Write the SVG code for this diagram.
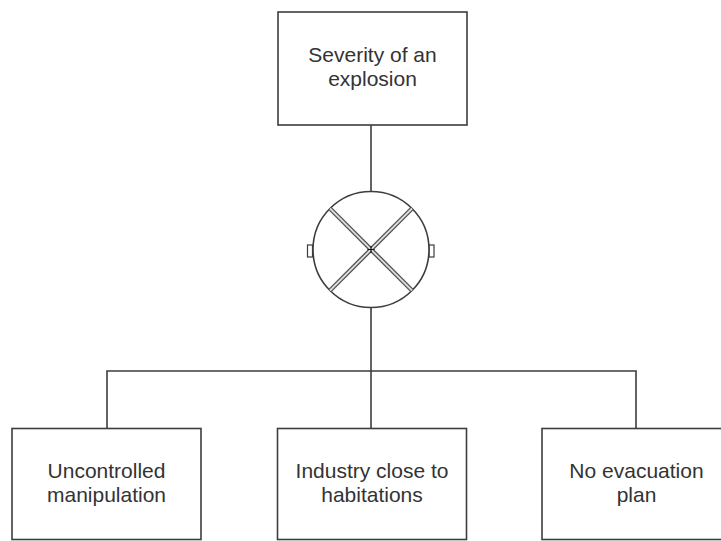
<svg xmlns="http://www.w3.org/2000/svg" width="721" height="541" viewBox="0 0 721 541">
<style>
.box{fill:#fff;stroke:#3d3d3d;stroke-width:1.6}
.lbl{font-family:"Liberation Sans",Arial,sans-serif;font-size:21px;fill:#333;text-anchor:middle}
.con{fill:none;stroke:#3d3d3d;stroke-width:1.6}
</style>
<rect width="721" height="541" fill="#fff"/>
<g id="connectors">
<path class="con" d="M371,125 V191.5"/>
<path class="con" d="M371,307.5 V428.5"/>
<path class="con" d="M107,428.5 V371 H636 V428.5"/>
</g>
<g id="top">
<rect class="box" x="278" y="12" width="189" height="113"/>
<text class="lbl" x="372.5" y="62">Severity of an</text>
<text class="lbl" x="372.5" y="86">explosion</text>
</g>
<g id="gate">
<rect x="307.5" y="245" width="5" height="12" fill="#fff" stroke="#3d3d3d" stroke-width="1.2"/>
<rect x="429" y="245" width="5" height="12" fill="#fff" stroke="#3d3d3d" stroke-width="1.2"/>
<circle cx="371" cy="249.5" r="58" fill="#fff" stroke="#3d3d3d" stroke-width="1.6"/>
<path d="M330,208.5 L412,290.5 M412,208.5 L330,290.5" stroke="#555" stroke-width="4.5"/>
<path d="M330,208.5 L412,290.5 M412,208.5 L330,290.5" stroke="#ddd" stroke-width="1.8"/>
<path d="M367.5,249.5 H374.5 M371,246 V253" stroke="#111" stroke-width="1.2"/>
</g>
<g id="left">
<rect class="box" x="12" y="428.5" width="189" height="111"/>
<text class="lbl" x="106.5" y="478">Uncontrolled</text>
<text class="lbl" x="106.5" y="502">manipulation</text>
</g>
<g id="middle">
<rect class="box" x="277.5" y="428.5" width="189" height="111"/>
<text class="lbl" x="372" y="478">Industry close to</text>
<text class="lbl" x="372" y="502">habitations</text>
</g>
<g id="right">
<rect class="box" x="542" y="428.5" width="189" height="111"/>
<text class="lbl" x="636.5" y="478">No evacuation</text>
<text class="lbl" x="636.5" y="502">plan</text>
</g>
</svg>
